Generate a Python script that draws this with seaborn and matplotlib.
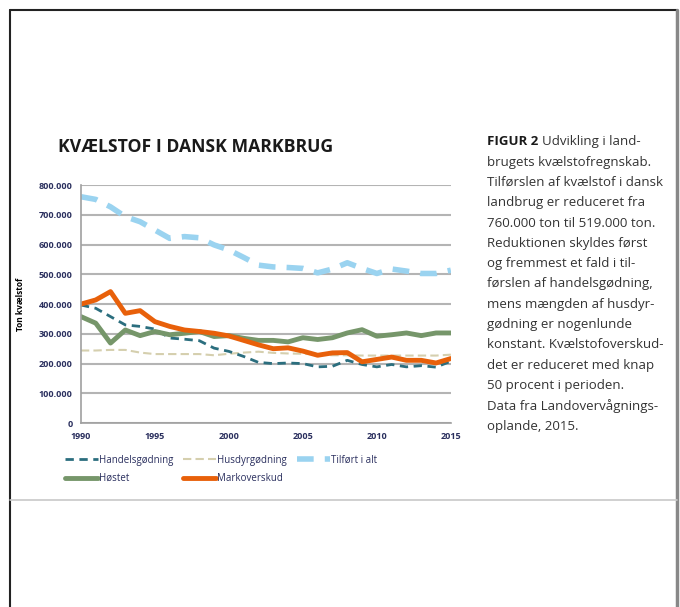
import numpy as np
import pandas as pd
import matplotlib
matplotlib.use("Agg")
import matplotlib.pyplot as plt
from matplotlib.lines import Line2D
from matplotlib.ticker import FuncFormatter, MultipleLocator
import seaborn as sns

years = list(range(1990, 2016))
handelsgodning = [397, 386, 358, 330, 325, 316, 286, 282, 277, 252, 241, 224, 204, 200,
                  202, 200, 189, 191, 211, 197, 189, 197, 189, 193, 188, 208]
husdyrgodning = [244, 244, 246, 246, 237, 232, 232, 232, 232, 228, 233, 237, 240, 236,
                 234, 233, 230, 228, 228, 227, 227, 227, 227, 227, 227, 230]
tilfort_i_alt = [761, 752, 727, 694, 677, 649, 621, 627, 623, 599, 582, 557, 531, 525,
                 523, 520, 505, 518, 539, 520, 503, 518, 511, 503, 503, 514]
hostet = [358, 336, 269, 313, 294, 308, 297, 302, 308, 291, 294, 285, 278, 278,
          273, 287, 281, 287, 303, 314, 292, 297, 303, 294, 303, 303]
markoverskud = [400, 414, 442, 369, 378, 341, 325, 313, 308, 302, 293, 278, 263, 250,
                253, 242, 228, 236, 237, 206, 214, 222, 211, 211, 202, 217]

series = {
    "Handelsgødning": handelsgodning,
    "Husdyrgødning": husdyrgodning,
    "Tilført i alt": tilfort_i_alt,
    "Høstet": hostet,
    "Markoverskud": markoverskud,
}
styles = {
    "Handelsgødning": dict(color="#2b6e7e", lw=2.0, ls=(0, (3, 2))),
    "Husdyrgødning": dict(color="#d5cfae", lw=1.5, ls=(0, (4, 2))),
    "Tilført i alt": dict(color="#9ad3f0", lw=4.0, ls=(0, (3, 2))),
    "Høstet": dict(color="#76966a", lw=3.5, ls="-"),
    "Markoverskud": dict(color="#e8600a", lw=3.5, ls="-"),
}

df = pd.DataFrame({"år": years, **{k: np.array(v) * 1000 for k, v in series.items()}})
long = df.melt(id_vars="år", var_name="serie", value_name="ton")

sns.set_style("white")
plt.rcParams["font.family"] = ["Open Sans", "DejaVu Sans"]
navy = "#2a2f5e"

fig = plt.figure(figsize=(6.8, 6.07), dpi=100)
ax = fig.add_axes([0.119, 0.303, 0.544, 0.392])

order = ["Husdyrgødning", "Tilført i alt", "Handelsgødning", "Høstet", "Markoverskud"]
for name in order:
    st = styles[name]
    sns.lineplot(data=long[long["serie"] == name], x="år", y="ton", ax=ax,
                 color=st["color"], linewidth=st["lw"], linestyle=st["ls"],
                 label=name, legend=False)

ax.set_xlim(1990, 2015)
ax.set_ylim(0, 800000)
ax.yaxis.set_major_locator(MultipleLocator(100000))
ax.yaxis.set_major_formatter(FuncFormatter(lambda v, p: f"{v:,.0f}".replace(",", ".")))
ax.set_xticks(range(1990, 2016, 5))
ax.xaxis.set_minor_locator(MultipleLocator(1))
ax.grid(axis="y", color="#b4b4b4", lw=1.5)
ax.set_axisbelow(True)
for s in ["top", "right"]:
    ax.spines[s].set_visible(False)
for s in ["left", "bottom"]:
    ax.spines[s].set_color("#a0a0a0")
    ax.spines[s].set_linewidth(1.2)
ax.tick_params(axis="y", length=0, labelsize=6.5, labelcolor=navy, pad=6)
ax.tick_params(axis="x", which="both", direction="out", color="#a0a0a0", labelsize=6.5,
               labelcolor=navy, length=3, width=1)
for lbl in ax.get_xticklabels() + ax.get_yticklabels():
    lbl.set_fontweight("bold")
ax.set_xlabel("")
ax.set_ylabel("Ton kvælstof", fontsize=6, fontweight="bold", color="black", labelpad=10)

fig.text(0.085, 0.758, "KVÆLSTOF I DANSK MARKBRUG", fontsize=12.7, fontweight="bold",
         color="#1a1a1a", va="center")

handles = {}
for name in series:
    st = styles[name]
    handles[name] = Line2D([], [], color=st["color"], lw=st["lw"], ls=st["ls"])
leg_order = ["Handelsgødning", "Høstet", "Husdyrgødning", "Markoverskud", "Tilført i alt"]
fig.legend([handles[n] for n in leg_order], leg_order, ncol=3, loc="upper left",
           bbox_to_anchor=(0.083, 0.265), frameon=False, fontsize=7, handlelength=3.4,
           handletextpad=0.1, columnspacing=1.0, labelspacing=0.75, labelcolor=navy)

first_line = "Udvikling i land-"
body = ("brugets kvælstofregnskab.\n"
        "Tilførslen af kvælstof i dansk\n"
        "landbrug er reduceret fra\n"
        "760.000 ton til 519.000 ton.\n"
        "Reduktionen skyldes først\n"
        "og fremmest et fald i til-\n"
        "førslen af handelsgødning,\n"
        "mens mængden af husdyr-\n"
        "gødning er nogenlunde\n"
        "konstant. Kvælstofoverskud-\n"
        "det er reduceret med knap\n"
        "50 procent i perioden.\n"
        "Data fra Landovervågnings-\n"
        "oplande, 2015.")
fs = 9.5
x0, y0 = 0.716, 0.777
step = 20.3 / 607
fig_lbl = fig.text(x0, y0, "FIGUR 2", fontsize=fs, fontweight="bold", color="#1a1a1a",
                   va="top")
fig.canvas.draw()
bb = fig_lbl.get_window_extent(fig.canvas.get_renderer())
fig.text(bb.x1 / fig.bbox.width + 0.006, y0, first_line, fontsize=fs, color="#333333",
         va="top")
for i, line in enumerate(body.split("\n")):
    fig.text(x0, y0 - (i + 1) * step, line, fontsize=fs, color="#333333", va="top")

# page frame
fig.add_artist(Line2D([0.0147, 0.0147], [0, 0.9835], color="#222222", lw=1.5))
fig.add_artist(Line2D([0.0147, 0.9956], [0.9835, 0.9835], color="#222222", lw=1.5))
fig.add_artist(Line2D([0.9956, 0.9956], [0, 0.9835], color="#888888", lw=2.5))
fig.add_artist(Line2D([0.0147, 0.9956], [0.1763, 0.1763], color="#c8c8c8", lw=1.2))

fig.savefig("out.png", dpi=100)
